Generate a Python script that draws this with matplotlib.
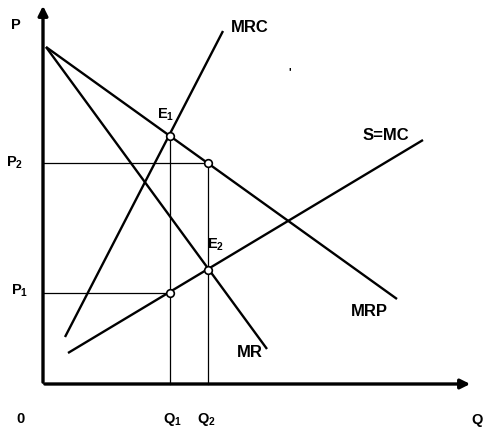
import matplotlib as mpl
mpl.use('Agg')
import matplotlib.pyplot as plt

plt.rcParams['font.family'] = ['Liberation Sans', 'DejaVu Sans']
plt.rcParams['font.weight'] = 'bold'
plt.rcParams['mathtext.fontset'] = 'custom'
plt.rcParams['mathtext.rm'] = 'Liberation Sans:bold'
plt.rcParams['mathtext.bf'] = 'Liberation Sans:bold'

# curves (quantity, price) end points
mrp_q = [3, 354]
mrp_p = [337, 85]
mr_q = [3, 224]
mr_p = [337, 35]
mrc_q = [22, 180]
mrc_p = [47, 353]
smc_q = [25, 380]
smc_p = [31, 244]

# equilibrium levels
q_levels = [127, 165]      # Q1, Q2
p_levels = [91, 221]       # P1, P2
e1 = (127, 248)
e2 = (165, 114)

fig = plt.figure(figsize=(4.84, 4.31), dpi=100)
ax = fig.add_axes([0, 0, 1, 1])
ax.set_xlim(-43, 441)
ax.set_ylim(-46, 385)
ax.axis('off')

# axes with arrows
ax.annotate('', xy=(0, 381), xytext=(0, -1),
            arrowprops=dict(arrowstyle='-|>', lw=2.4, color='black', mutation_scale=14))
ax.annotate('', xy=(430, 0), xytext=(-1, 0),
            arrowprops=dict(arrowstyle='-|>', lw=2.4, color='black', mutation_scale=14))

# guide lines
ax.plot([0, q_levels[1]], [p_levels[1], p_levels[1]], color='black', lw=0.9)
ax.plot([0, q_levels[0]], [p_levels[0], p_levels[0]], color='black', lw=0.9)
ax.plot([q_levels[0], q_levels[0]], [0, e1[1]], color='black', lw=0.9)
ax.plot([q_levels[1], q_levels[1]], [0, p_levels[1]], color='black', lw=0.9)

# curves
for q, p in [(mrp_q, mrp_p), (mr_q, mr_p), (mrc_q, mrc_p), (smc_q, smc_p)]:
    ax.plot(q, p, color='black', lw=1.7, solid_capstyle='butt')

# points
px = [e1[0], e2[0], q_levels[1], q_levels[0]]
py = [e1[1], e2[1], p_levels[1], p_levels[0]]
ax.plot(px, py, 'o', ms=5.5, mfc='white', mec='black', mew=1.2, zorder=5)

# labels
fs = 10.5
ax.text(-27, 360, 'P', fontsize=fs, ha='center', va='center')
ax.text(-28, 222, r'$\mathbf{P_2}$', fontsize=fs, ha='center', va='center')
ax.text(-23, 94, r'$\mathbf{P_1}$', fontsize=fs, ha='center', va='center')
ax.text(-23, -34, '0', fontsize=fs, ha='center', va='center')
ax.text(129, -35, r'$\mathbf{Q_1}$', fontsize=fs, ha='center', va='center')
ax.text(163, -35, r'$\mathbf{Q_2}$', fontsize=fs, ha='center', va='center')
ax.text(440, -35, 'Q', fontsize=fs, ha='right', va='center')
ax.text(123, 270, r'$\mathbf{E_1}$', fontsize=fs, ha='center', va='center')
ax.text(173, 140, r'$\mathbf{E_2}$', fontsize=fs, ha='center', va='center')

fc = 12
ax.text(207, 358, 'MRC', fontsize=fc, ha='center', va='center')
ax.text(343, 250, 'S=MC', fontsize=fc, ha='center', va='center')
ax.text(326, 74, 'MRP', fontsize=fc, ha='center', va='center')
ax.text(207, 32, 'MR', fontsize=fc, ha='center', va='center')
ax.text(247, 313, "'", fontsize=8, ha='center', va='center')

plt.savefig('out.png', dpi=100)
plt.close()
